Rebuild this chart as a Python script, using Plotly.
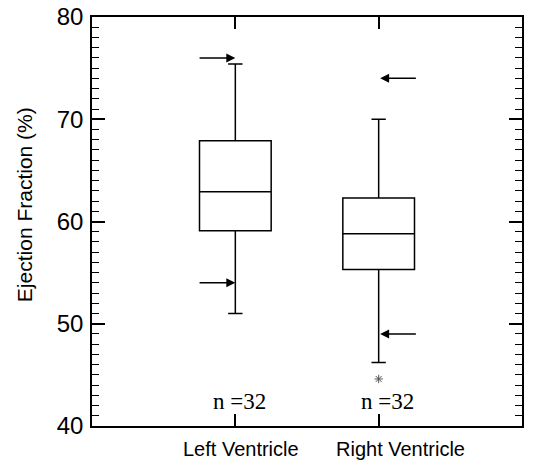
import plotly.graph_objects as go

categories = ["Left Ventricle", "Right Ventricle"]
q1 = [59.1, 55.3]
median = [62.9, 58.8]
q3 = [67.9, 62.3]
lower_whisker = [51.0, 46.2]
upper_whisker = [75.4, 70.0]
outlier_cat = ["Right Ventricle"]
outlier_val = [44.6]
n_labels = ["n =32", "n =32"]
n_label_y = [42.4, 42.4]
arrow_lv = [76.0, 54.0]
arrow_rv = [74.0, 49.0]
y_title = "Ejection Fraction (%)"

fig = go.Figure()
for i, c in enumerate(categories):
    fig.add_trace(go.Box(
        x=[c], q1=[q1[i]], median=[median[i]], q3=[q3[i]],
        lowerfence=[lower_whisker[i]], upperfence=[upper_whisker[i]],
        width=0.5, whiskerwidth=0.2, fillcolor="white",
        line=dict(color="black", width=1.5), boxpoints=False, showlegend=False,
    ))

fig.add_trace(go.Scatter(
    x=outlier_cat, y=outlier_val, mode="markers",
    marker=dict(symbol="asterisk-open", size=7, color="#555", line=dict(color="#555", width=1)),
    showlegend=False,
))

# sample-size labels
for i, c in enumerate(categories):
    fig.add_annotation(x=c, y=n_label_y[i], xref="x", yref="y", text=n_labels[i], showarrow=False,
                       xshift=[4, 9][i],
                       font=dict(family="Liberation Serif", size=23, color="black"))

# category labels
for i, c in enumerate(categories):
    fig.add_annotation(x=c, y=0, xref="x", yref="paper", yanchor="middle", yshift=-23,
                       xshift=[6, 22][i], text=c, showarrow=False,
                       font=dict(family="Liberation Sans", size=20, color="black"))

# y title
fig.add_annotation(x=0, y=0.54, xref="paper", yref="paper", xanchor="center", yanchor="middle",
                   xshift=-68, text=y_title, textangle=-90, showarrow=False,
                   font=dict(family="Liberation Sans", size=21, color="black"))

for v in arrow_lv:
    fig.add_annotation(x=0.0, y=v, ax=-0.26, ay=v, xref="x", yref="y", axref="x", ayref="y",
                       showarrow=True, arrowhead=2, arrowsize=1.2, arrowwidth=1.5, arrowcolor="black", text="")
for v in arrow_rv:
    fig.add_annotation(x=1.01, y=v, ax=1.27, ay=v, xref="x", yref="y", axref="x", ayref="y",
                       showarrow=True, arrowhead=2, arrowsize=1.2, arrowwidth=1.5, arrowcolor="black", text="")

fig.update_layout(
    width=532, height=453,
    margin=dict(l=84, r=18, t=9, b=35),
    plot_bgcolor="white", paper_bgcolor="white",
    font=dict(family="Liberation Sans", color="black"),
)
fig.update_xaxes(
    type="category", categoryorder="array", categoryarray=categories,
    range=[-1.0, 2.0], showline=True, linecolor="black", linewidth=1.5, mirror="ticks",
    ticks="inside", ticklen=12, tickwidth=1.5, tickcolor="black",
    showticklabels=False, showgrid=False, zeroline=False, automargin=False,
)
fig.update_yaxes(
    range=[40, 80], dtick=10, showline=True, linecolor="black", linewidth=1.5, mirror="ticks",
    ticks="inside", ticklen=13, tickwidth=1.5, tickcolor="black",
    minor=dict(dtick=1, ticks="inside", ticklen=7, tickwidth=1, tickcolor="black", showgrid=False),
    tickfont=dict(size=24), ticklabelstandoff=2, ticklabeloverflow="allow",
    showgrid=False, zeroline=False, automargin=False,
)

fig.write_html("out.html")
